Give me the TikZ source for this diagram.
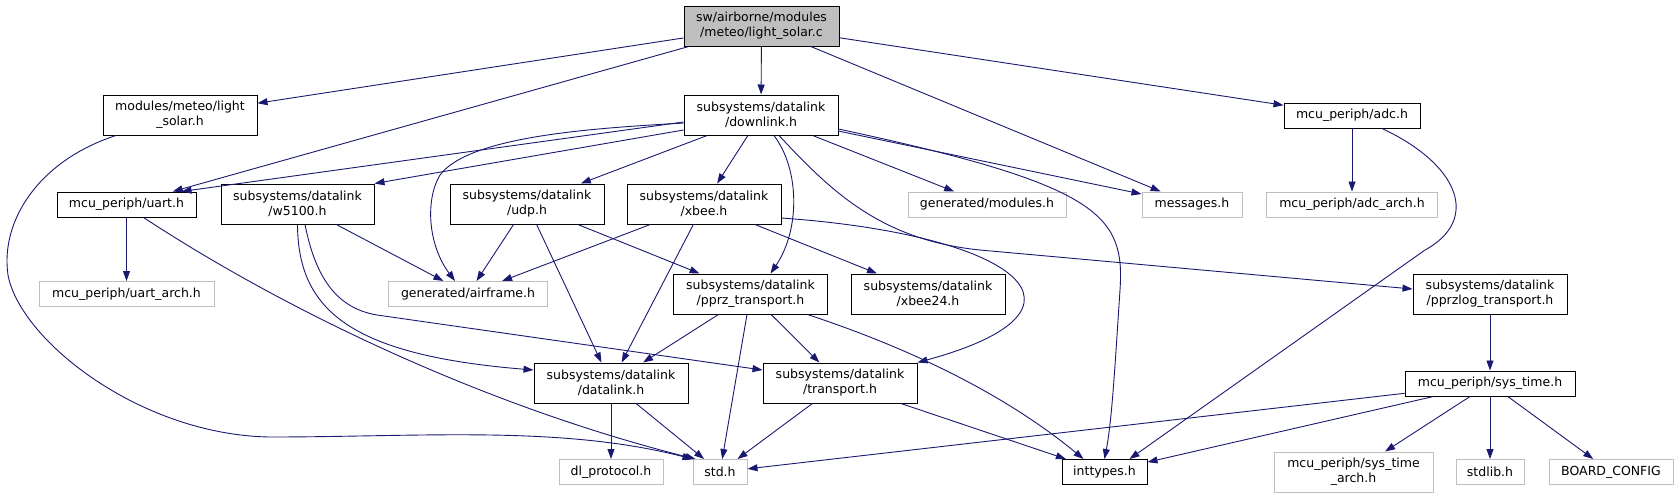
\documentclass[tikz,border=0pt]{standalone}
\usepackage{fontspec}
\setmainfont{DejaVu Sans}
\usetikzlibrary{arrows.meta}
\definecolor{edgeblue}{RGB}{25,25,112}
\definecolor{extgray}{RGB}{191,191,191}

\begin{document}
\begin{tikzpicture}[
        x=1pt, y=-1pt,
        % Style pour les fichiers documentés
        docfile/.style={
            draw=black,
            line width=1pt,
            fill=white,
            inner sep=0pt,
            minimum height=25pt,
            align=center,
            font=\fontsize{12.5}{15}\selectfont
        },
        % Style pour les fichiers externes
        extfile/.style={docfile, draw=extgray},
        % Style pour le fichier source
        rootfile/.style={docfile, fill=extgray},
        twoline/.style={minimum height=40pt},
        % Style pour les inclusions
        inc/.style={
            -{Triangle[length=10pt,width=7pt]},
            draw=edgeblue,
            line width=0.9pt
        }
    ]

    \useasboundingbox (0,0) rectangle (1678,499);

    % Fichier source
    \node[rootfile, twoline, minimum width=155pt] (root) at (761.5,26) {sw/airborne/modules\\/meteo/light\_solar.c};

    % Premier niveau
    \node[docfile, twoline, minimum width=154pt] (lsh) at (180,115) {modules/meteo/light\\\_solar.h};
    \node[docfile, twoline, minimum width=154pt] (dlk) at (761,115) {subsystems/datalink\\/downlink.h};
    \node[docfile, minimum width=136pt] (adc) at (1352,115.5) {mcu\_periph/adc.h};

    % Deuxième niveau
    \node[docfile, minimum width=139pt] (uart) at (126.5,204.5) {mcu\_periph/uart.h};
    \node[docfile, twoline, minimum width=153pt] (w51) at (297.5,204) {subsystems/datalink\\/w5100.h};
    \node[docfile, twoline, minimum width=154pt] (udp) at (527,204) {subsystems/datalink\\/udp.h};
    \node[docfile, twoline, minimum width=154pt] (xbe) at (704,204) {subsystems/datalink\\/xbee.h};
    \node[extfile, minimum width=158pt] (mod) at (987,204.5) {generated/modules.h};
    \node[extfile, minimum width=100pt] (msg) at (1192,204.5) {messages.h};
    \node[extfile, minimum width=171pt] (adcarch) at (1352,204.5) {mcu\_periph/adc\_arch.h};

    % Troisième niveau
    \node[extfile, minimum width=175pt] (uartarch) at (126.5,294) {mcu\_periph/uart\_arch.h};
    \node[extfile, minimum width=159pt] (air) at (468,294) {generated/airframe.h};
    \node[docfile, twoline, minimum width=154pt] (ppz) at (750.5,294) {subsystems/datalink\\/pprz\_transport.h};
    \node[docfile, twoline, minimum width=154pt] (xb24) at (928,294) {subsystems/datalink\\/xbee24.h};
    \node[docfile, twoline, minimum width=154pt] (plg) at (1490,294) {subsystems/datalink\\/pprzlog\_transport.h};

    % Quatrième niveau
    \node[docfile, twoline, minimum width=154pt] (dtl) at (611,383) {subsystems/datalink\\/datalink.h};
    \node[docfile, twoline, minimum width=154pt] (trp) at (840,383) {subsystems/datalink\\/transport.h};
    \node[docfile, minimum width=170pt] (syt) at (1490,383.5) {mcu\_periph/sys\_time.h};

    % Dernier niveau
    \node[extfile, minimum width=104pt] (dlp) at (611,472) {dl\_protocol.h};
    \node[extfile, minimum width=54pt] (std) at (720,472) {std.h};
    \node[docfile, minimum width=85pt] (int) at (1104.5,472) {inttypes.h};
    \node[extfile, twoline, minimum width=159pt] (sta) at (1353.5,472) {mcu\_periph/sys\_time\\\_arch.h};
    \node[extfile, minimum width=68pt] (stl) at (1490,472) {stdlib.h};
    \node[extfile, minimum width=124pt] (brd) at (1611,472) {BOARD\_CONFIG};

    % Inclusions du fichier source
    \draw[inc] (root) -- (lsh);
    \draw[inc] (root) -- (uart);
    \draw[inc] (root) -- (dlk);
    \draw[inc] (root) -- (msg);
    \draw[inc] (root) -- (adc);

    % Inclusions de downlink.h
    \draw[inc] ([yshift=-7pt]dlk.west) -- ([xshift=55pt]uart.north);
    \draw[inc] ([yshift=-15pt]dlk.west) -- (w51.north east);
    \draw[inc] ([yshift=-8pt]dlk.west) .. controls (600,128) and (470,135) .. (440,175) .. controls (425,200) and (428,245) .. ([xshift=-13pt]air.north);
    \draw[inc] (dlk) -- (udp);
    \draw[inc] (dlk) -- (xbe);
    \draw[inc] ([xshift=13pt]dlk.south) .. controls (800,170) and (800,230) .. ([xshift=20pt]ppz.north);
    \draw[inc] ([xshift=18pt]dlk.south) .. controls (830,190) and (880,240) .. (980,250) -- ([yshift=5pt]plg.west);
    \draw[inc] (dlk) -- (mod);
    \draw[inc] (dlk) -- (msg);
    \draw[inc] ([yshift=-14pt]dlk.east) .. controls (1100,185) and (1125,215) .. (1120,290) .. controls (1115,365) and (1112,420) .. (int.north);

    % Autres inclusions
    \draw[inc] (adc) -- (adcarch);
    \draw[inc] ([xshift=30pt]adc.south) .. controls (1460,165) and (1480,220) .. (1425,250) -- ([xshift=-18pt]int.north east);
    \draw[inc] ([xshift=-64pt]lsh.south) .. controls (40,160) and (0,220) .. (8,275) .. controls (20,340) and (140,435) .. (270,437) .. controls (420,437) and (560,425) .. (std.north west);
    \draw[inc] (uart) -- (uartarch);
    \draw[inc] ([xshift=17pt]uart.south) .. controls (300,320) and (500,410) .. ([xshift=3pt]std.north west);

    \draw[inc] (w51) -- (air);
    \draw[inc] (w51.south) .. controls (298,310) and (350,355) .. ([yshift=13pt]dtl.west);
    \draw[inc] ([xshift=7.5pt]w51.south) .. controls (315,275) and (335,308) .. (377,315) -- ([yshift=13pt]trp.west);

    \draw[inc] (udp) -- (air);
    \draw[inc] (udp) -- (dtl);
    \draw[inc] (udp) -- (ppz);

    \draw[inc] (xbe) -- (air);
    \draw[inc] (xbe) -- (dtl);
    \draw[inc] (xbe) -- (xb24);
    \draw[inc] ([yshift=-14pt]xbe.east) .. controls (1020,235) and (1110,310) .. (trp.north east);

    \draw[inc] (ppz) -- (dtl);
    \draw[inc] (ppz) -- (std);
    \draw[inc] (ppz) -- (trp);
    \draw[inc] ([xshift=57pt]ppz.south) .. controls (900,345) and (1000,390) .. ([xshift=-21pt]int.north);

    \draw[inc] (dtl) -- (dlp);
    \draw[inc] (dtl) -- (std);
    \draw[inc] (trp) -- (std);
    \draw[inc] (trp) -- (int);

    \draw[inc] (plg) -- (syt);
    \draw[inc] (syt) -- (std);
    \draw[inc] (syt) -- (int);
    \draw[inc] (syt) -- (sta);
    \draw[inc] (syt) -- (stl);
    \draw[inc] (syt) -- (brd);

    \end{tikzpicture}
\end{document}
